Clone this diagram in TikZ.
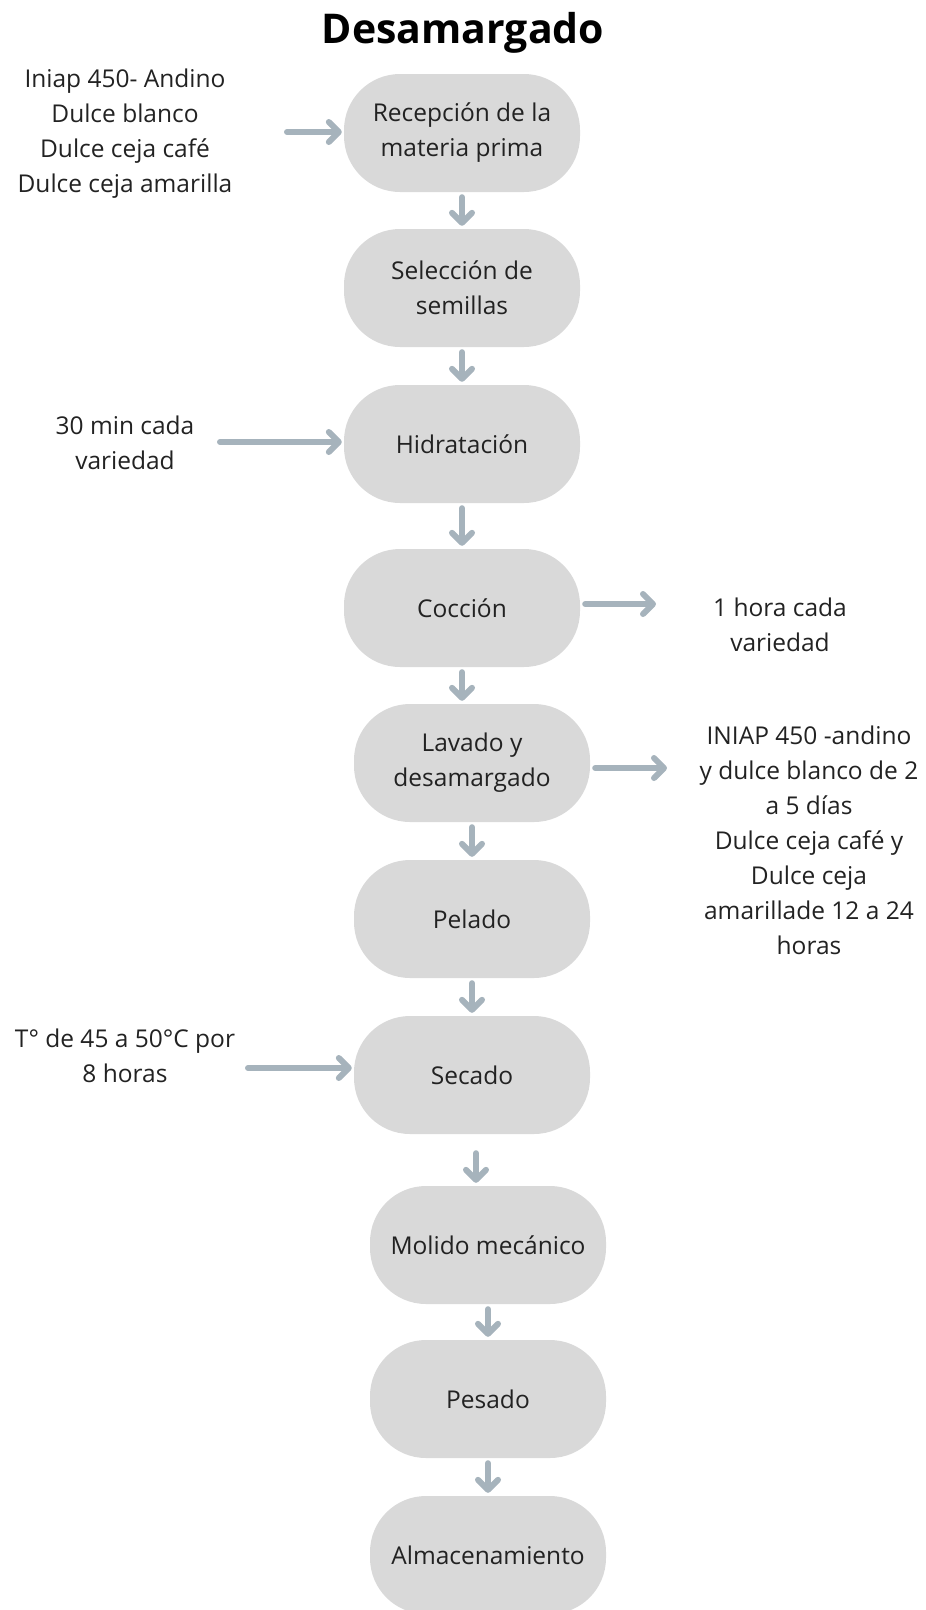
\documentclass[tikz,border=0pt]{standalone}
\usepackage{fontspec}
\setmainfont{Open Sans}
\usetikzlibrary{arrows.meta}

\definecolor{cajagris}{HTML}{D9D9D9}
\definecolor{flechagris}{HTML}{A6B3BC}
\definecolor{textogris}{HTML}{222222}

\tikzset{
	caja/.style={fill=cajagris, rounded corners=56pt, minimum width=236pt, minimum height=118pt, inner sep=0pt, align=center, text=textogris, font=\fontsize{24.5}{35}\selectfont},
	nota/.style={inner sep=0pt, align=center, text=textogris, font=\fontsize{24.5}{35}\selectfont},
	flecha/.style={draw=flechagris, line width=6pt, line cap=round, -{Straight Barb[length=10pt,width=20pt,round]}},
	bajada/.style={flecha, shorten <=5pt, shorten >=3pt},
}

\begin{document}
\begin{tikzpicture}[x=1pt,y=1pt,yscale=-1,xscale=1]
	\useasboundingbox (0,0) rectangle (926,1610);
	
	% Title
	\draw (463,43) node [anchor=base] [inner sep=0pt] [font=\fontsize{41}{44}\selectfont\bfseries] (titulo) {Desamargado};
	
	% Process boxes
	\draw (462,133) node [caja] (rec) {Recepción de la\\materia prima};
	\draw (462,288) node [caja] (sel) {Selección de\\semillas};
	\draw (462,444) node [caja] (hid) {Hidratación};
	\draw (462,608) node [caja] (coc) {Cocción};
	\draw (472,763) node [caja] (lav) {Lavado y\\desamargado};
	\draw (472,919) node [caja] (pel) {Pelado};
	\draw (472,1075) node [caja] (sec) {Secado};
	\draw (488,1245) node [caja] (mol) {Molido mecánico};
	\draw (488,1399) node [caja] (pes) {Pesado};
	\draw (488,1555) node [caja] (alm) {Almacenamiento};
	
	% Text Node
	\draw (125,134) node [nota] (variedades) {Iniap 450- Andino\\Dulce blanco\\Dulce ceja café\\Dulce ceja amarilla};
	% Text Node
	\draw (125,443) node [nota] (tiempohid) {30 min cada\\variedad};
	% Text Node
	\draw (780,625) node [nota] (tiempococ) {1 hora cada\\variedad};
	% Text Node
	\draw (809,840) node [nota] (tiempolav) {INIAP 450 -andino\\y dulce blanco de 2\\a 5 días\\Dulce ceja café y\\Dulce ceja\\amarillade 12 a 24\\horas};
	% Text Node
	\draw (125,1056) node [nota] (tempsec) {T° de 45 a 50°C por\\8 horas};
	
	% side arrow ends
	\coordinate (inrec) at (287,132);
	\coordinate (inhid) at (220,442);
	\coordinate (outcoc) at (656,604);
	\coordinate (outlav) at (667,768);
	\coordinate (insec) at (248,1068);
	
	% Side arrows
	\draw [flecha, shorten >=2pt] (inrec) -- (inrec -| rec.west);
	\draw [flecha, shorten >=2pt] (inhid) -- (inhid -| hid.west);
	\draw [flecha, shorten <=5pt] (outcoc -| coc.east) -- (outcoc);
	\draw [flecha, shorten <=5pt] (outlav -| lav.east) -- (outlav);
	\draw [flecha, shorten >=2pt] (insec) -- (insec -| sec.west);
	
	% Down arrows
	\draw [bajada] (rec.south) -- (rec.south |- sel.north);
	\draw [bajada] (sel.south) -- (sel.south |- hid.north);
	\draw [bajada] (hid.south) -- (hid.south |- coc.north);
	\draw [bajada] (coc.south) -- (coc.south |- lav.north);
	\draw [bajada] (lav.south) -- (lav.south |- pel.north);
	\draw [bajada] (pel.south) -- (pel.south |- sec.north);
	\draw [bajada, shorten <=19pt] ([xshift=4pt]sec.south) -- ([xshift=4pt]sec.south |- mol.north);
	\draw [bajada] (mol.south) -- (mol.south |- pes.north);
	\draw [bajada] (pes.south) -- (pes.south |- alm.north);
	
\end{tikzpicture}
\end{document}
